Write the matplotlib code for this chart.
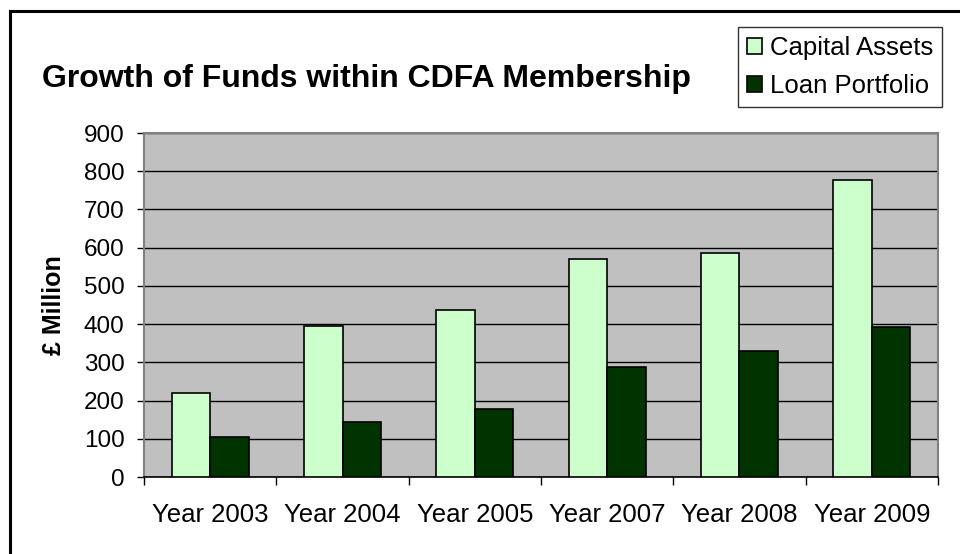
import matplotlib
matplotlib.use('Agg')
import matplotlib.pyplot as plt
import numpy as np
from matplotlib.lines import Line2D

plt.rcParams['font.family'] = ['Liberation Sans', 'DejaVu Sans']

# data
years = ['Year 2003', 'Year 2004', 'Year 2005', 'Year 2007', 'Year 2008', 'Year 2009']
capital_assets = [219, 396, 438, 570, 585, 778]
loan_portfolio = [104, 145, 177, 287, 329, 392]

W, H = 960, 554
fig = plt.figure(figsize=(W / 100, H / 100), dpi=100)
ax = fig.add_axes([144 / W, 1 - 477 / H, (938 - 144) / W, (477 - 133) / H])

x = np.arange(len(years))
bw = 0.29
ax.bar(x - bw / 2, capital_assets, bw, color='#CCFFCC', edgecolor='black', linewidth=1.2,
       label='Capital Assets', zorder=3)
ax.bar(x + bw / 2, loan_portfolio, bw, color='#003300', edgecolor='black', linewidth=1.2,
       label='Loan Portfolio', zorder=3)

ax.set_facecolor('#C0C0C0')
ax.set_xlim(-0.5, len(years) - 0.5)
ax.set_ylim(0, 900)
ax.set_yticks(range(0, 901, 100))
ax.yaxis.grid(True, color='black', linewidth=1.0, zorder=1)
ax.set_axisbelow(True)

ax.set_xticks(x)
ax.set_xticklabels(years, fontsize=18.5)
ax.set_xticks(np.arange(-0.5, len(years)), minor=True)
ax.tick_params(axis='x', which='major', length=0, pad=19)
ax.tick_params(axis='x', which='minor', length=6, width=1, color='black', direction='out')
ax.tick_params(axis='y', length=5, width=1, pad=9, labelsize=17.5, direction='out')

for s in ['top', 'right', 'left']:
    ax.spines[s].set_color('#808080')
    ax.spines[s].set_linewidth(1.5)
ax.spines['bottom'].set_color('black')
ax.spines['bottom'].set_linewidth(1.2)

fig.text(42 / W, 1 - 87 / H, 'Growth of Funds within CDFA Membership', fontsize=23,
         fontweight='bold', va='baseline', ha='left')
fig.text(54 / W, 1 - 305 / H, '£ Million', fontsize=18, fontweight='bold',
         rotation=90, va='center', ha='center')

leg = ax.legend(loc='upper right', bbox_to_anchor=(942 / W, 1 - 27 / H),
                bbox_transform=fig.transFigure, fontsize=18.5, frameon=True,
                fancybox=False, shadow=False, handlelength=0.6, handleheight=0.6,
                handletextpad=0.3, borderpad=0.35, labelspacing=0.55, borderaxespad=0)
leg.get_frame().set_edgecolor('black')
leg.get_frame().set_linewidth(1.0)

# outer chart border (top and left visible)
fig.add_artist(Line2D([10 / W, 1.0], [1 - 11 / H, 1 - 11 / H], color='black', linewidth=2.2,
                      transform=fig.transFigure))
fig.add_artist(Line2D([10 / W, 10 / W], [0.0, 1 - 11 / H], color='black', linewidth=2.2,
                      transform=fig.transFigure))

fig.savefig('out.png', dpi=100)
